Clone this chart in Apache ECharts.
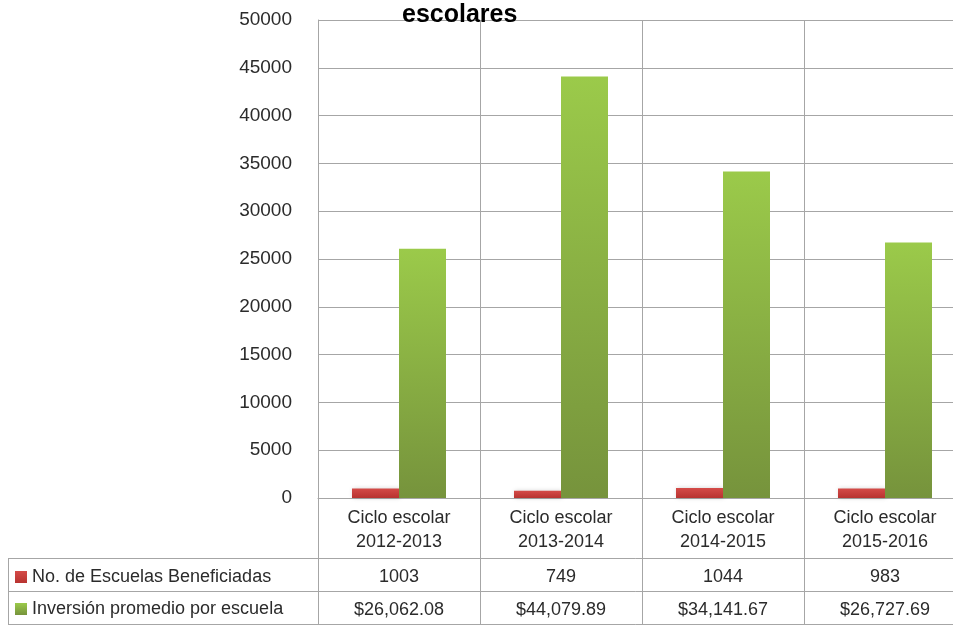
<!DOCTYPE html>
<html>
<head>
<meta charset="utf-8">
<script src="https://cdn.jsdelivr.net/npm/echarts@6/dist/echarts.min.js"></script>
<style>html,body{margin:0;padding:0;background:#fff}#c{width:953px;height:625px}</style>
</head>
<body>
<div id="c"></div>
<script>
const categories = ['Ciclo escolar\n2012-2013', 'Ciclo escolar\n2013-2014', 'Ciclo escolar\n2014-2015', 'Ciclo escolar\n2015-2016'];
const seriesNames = ['No. de Escuelas Beneficiadas', 'Inversión promedio por escuela'];
const escuelas = [1003, 749, 1044, 983];
const inversion = [26062.08, 44079.89, 34141.67, 26727.69];
const yMin = 0, yMax = 50000, yStep = 5000;
const titleText = 'escolares';

const FONT = 'Liberation Sans';
const TXT = '#2b2b2b';
const LINE = '#a6a6a6';

function money(v) {
  return '$' + v.toLocaleString('en-US', {minimumFractionDigits: 2, maximumFractionDigits: 2});
}

const chart = echarts.init(document.getElementById('c'), null, {renderer: 'canvas'});

function tableAxis(offset, formatter, margin) {
  return {
    type: 'category', data: categories, position: 'bottom', offset: offset,
    axisLine: {show: true, lineStyle: {color: LINE, width: 1}},
    axisTick: {show: false}, splitLine: {show: false},
    axisLabel: {formatter: formatter, fontFamily: FONT, fontSize: 18, color: TXT, margin: margin, interval: 0}
  };
}

const option = {
  animation: false,
  title: {text: titleText, left: 402, top: 3, padding: 0, textStyle: {fontFamily: FONT, fontSize: 25, fontWeight: 'bold', color: '#000'}},
  grid: {left: 318, top: 20, width: 648, height: 478, containLabel: false, outerBoundsMode: 'none'},
  legend: {
    orient: 'vertical', left: 15, top: 568, padding: 0, itemWidth: 12, itemHeight: 12, itemGap: 14, icon: 'rect',
    data: seriesNames, selectedMode: false,
    textStyle: {fontFamily: FONT, fontSize: 18, color: TXT}
  },
  xAxis: [
    {
      type: 'category', data: categories, position: 'bottom',
      axisLine: {show: true, lineStyle: {color: LINE}},
      axisTick: {show: true, length: 126, interval: 0, lineStyle: {color: LINE}},
      splitLine: {show: true, interval: 0, lineStyle: {color: LINE}},
      axisLabel: {fontFamily: FONT, fontSize: 18, lineHeight: 24, color: TXT, margin: 8, interval: 0}
    },
    tableAxis(60, (v, i) => String(escuelas[i]), 10),
    tableAxis(93, (v, i) => money(inversion[i]), 10),
    tableAxis(126, () => '', 8)
  ],
  yAxis: {
    type: 'value', min: yMin, max: yMax, interval: yStep,
    axisLine: {show: true, lineStyle: {color: LINE}},
    axisTick: {show: false},
    splitLine: {show: true, lineStyle: {color: LINE}},
    axisLabel: {fontFamily: FONT, fontSize: 19, color: TXT, margin: 26, formatter: v => String(v)}
  },
  series: [
    {
      name: seriesNames[0], type: 'bar', data: escuelas, barWidth: 47, barGap: '0%',
      itemStyle: {
        color: new echarts.graphic.LinearGradient(0, 0, 0, 1, [{offset: 0, color: '#d44b48'}, {offset: 1, color: '#b83330'}]),
        shadowColor: 'rgba(0,0,0,0.18)', shadowBlur: 4, shadowOffsetX: 1
      }
    },
    {
      name: seriesNames[1], type: 'bar', data: inversion, barWidth: 47, barGap: '0%',
      itemStyle: {
        color: new echarts.graphic.LinearGradient(0, 0, 0, 1, [{offset: 0, color: '#9bca4a'}, {offset: 1, color: '#76933c'}]),
        shadowColor: 'rgba(0,0,0,0.18)', shadowBlur: 4, shadowOffsetX: 1
      }
    }
  ]
};
chart.setOption(option);

// left column borders of the data table, aligned with the table axis lines
const x0 = chart.convertToPixel({xAxisIndex: 0}, categories[0]) - 81;
const y0 = chart.convertToPixel({yAxisIndex: 0}, 0);
const rowY = [y0 + 60, y0 + 93, y0 + 126];
const lines = rowY.map(y => ({type: 'line', shape: {x1: 8, y1: y + 0.5, x2: x0, y2: y + 0.5}, style: {stroke: LINE, lineWidth: 1}}));
lines.push({type: 'line', shape: {x1: 8.5, y1: rowY[0], x2: 8.5, y2: rowY[2]}, style: {stroke: LINE, lineWidth: 1}});
chart.setOption({graphic: lines});
</script>
</body>
</html>
